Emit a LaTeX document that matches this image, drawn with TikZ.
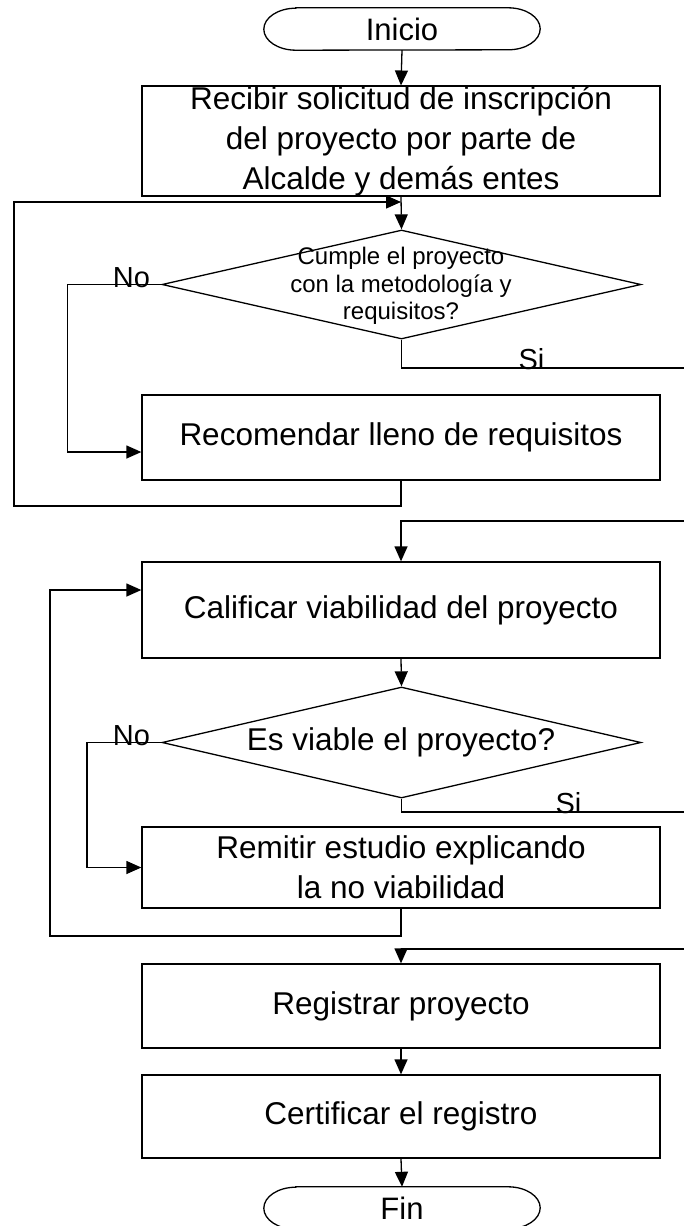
\documentclass[tikz,border=0pt]{standalone}
\usepackage{fontspec}
\setmainfont{Liberation Sans}
\usetikzlibrary{arrows.meta,shapes.geometric}
\begin{document}
\begin{tikzpicture}[x=1pt,y=-1pt,
  ln/.style={line width=1.3pt},
  arr/.style={ln,-{Triangle[length=15pt,width=13pt]}},
  procbox/.style={draw,ln,minimum width=518pt,inner sep=0pt,align=center,
    font=\fontsize{31.5}{40}\selectfont},
  termnode/.style={minimum width=276pt,minimum height=42pt,inner sep=0pt,
    font=\fontsize{31}{36}\selectfont},
  decide/.style={draw,ln,shape=diamond,minimum width=479pt,inner sep=0pt},
  smalltxt/.style={align=center,inner sep=0pt,font=\fontsize{24}{27.5}\selectfont},
  lbl/.style={inner sep=0pt,anchor=base,font=\fontsize{29}{32}\selectfont}]
\useasboundingbox (0,0) rectangle (684,1226);
\clip (0,0) rectangle (684,1226);

% nodes
\node[termnode] (inicio) at (402,29) {Inicio};
\node[procbox,minimum height=96pt] (b1) at (401,141) {Recibir solicitud de inscripción\\del proyecto por parte de\\Alcalde y demás entes};
\node[decide,minimum height=109pt] (d1) at (401.5,284.5) {};
\node[smalltxt] (d1t) at (401,286) {Cumple el proyecto\\con la metodología y\\requisitos?};
\node[procbox,minimum height=85pt] (rec) at (401,437.5) {Recomendar lleno de requisitos};
\node[procbox,minimum height=96pt] (cal) at (401,610) {Calificar viabilidad del proyecto};
\node[decide,minimum height=111pt] (d2) at (401.5,742.5) {};
\node[font=\fontsize{31.5}{40}\selectfont,inner sep=0pt] (d2t) at (401,742.5) {Es viable el proyecto?};
\node[procbox,minimum height=81pt] (rem) at (401,867.5) {Remitir estudio explicando\\la no viabilidad};
\node[procbox,minimum height=84pt] (reg) at (401,1006) {Registrar proyecto};
\node[procbox,minimum height=83pt] (cert) at (401,1116.5) {Certificar el registro};
\node[termnode] (fin) at (402,1208) {Fin};

% terminal outlines
\foreach \t in {inicio,fin}{
  \draw[ln] ([xshift=32pt]\t.north west) -- ([xshift=-32pt]\t.north east)
    arc[start angle=90,end angle=-90,x radius=32pt,y radius=21pt]
    -- ([xshift=32pt]\t.south west)
    arc[start angle=270,end angle=90,x radius=32pt,y radius=21pt] -- cycle;
}

% labels
\node[lbl] (no1) at (131.4,287) {No};
\node[lbl] (si1) at (531.5,369) {Si};
\node[lbl] (no2) at (131.4,745) {No};
\node[lbl] (si2) at (568.5,813) {Si};

% coordinates
\coordinate (m1) at (401,202);
\coordinate (l1a) at (14,506);
\coordinate (l1b) at (14,202);
\coordinate (n1) at (67.6,284.5);
\coordinate (s1) at (684,368);
\coordinate (r1) at (684,521);
\coordinate (n2) at (87,742.5);
\coordinate (l2a) at (50,936);
\coordinate (l2b) at (50,590);
\coordinate (s2) at (684,812);
\coordinate (r2) at (684,949);

% connectors
\draw[arr] (inicio.south) -- (b1.north);
\draw[arr] (b1.south) -- (d1.north);
\draw[arr] (rec.south) |- (l1a) -- (l1b) -- (m1);
\draw[arr] (d1.west) -- (n1) |- ([yshift=-14.5pt]rec.west);
\draw[ln] (d1.south) |- (s1);
\draw[arr] (r1) -| (cal.north);
\draw[arr] (cal.south) -- (d2.north);
\draw[arr] (d2.west) -- (n2) |- (rem.west);
\draw[arr] (rem.south) |- (l2a) -- (l2b) -- ([yshift=20pt]cal.west);
\draw[ln] (d2.south) |- (s2);
\draw[arr] (r2) -| (reg.north);
\draw[arr] (reg.south) -- (cert.north);
\draw[arr] (cert.south) -- (fin.north);
\end{tikzpicture}
\end{document}
